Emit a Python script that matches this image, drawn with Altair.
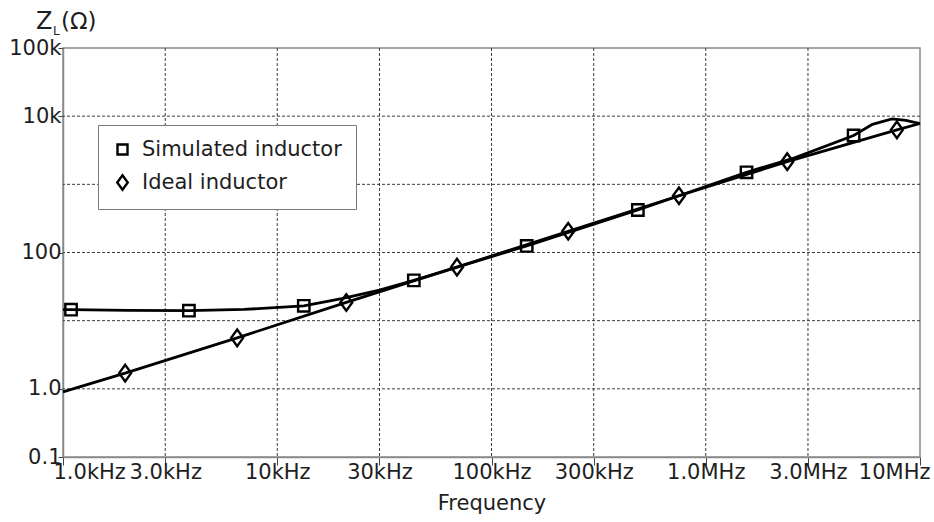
import altair as alt
import pandas as pd

# Impedance of the simulated (gyrator) inductor versus frequency
sim_freq = [1000, 1090, 2000, 3870, 7000, 13300, 20000, 30000, 43400, 146000,
            482000, 1550000, 2600000, 4900000, 6000000, 7400000, 8600000, 10000000]
sim_z = [14.5, 14.5, 14.2, 14.0, 14.6, 16.5, 21, 28, 39, 125,
         420, 1500, 2450, 5200, 7600, 9100, 8700, 7800]
sim_marker_freq = [1090, 3870, 13300, 43400, 146000, 482000, 1550000, 4900000]

# Impedance of the ideal inductor
ideal_freq = [1000, 1950, 6500, 21000, 69000, 228000, 750000, 2400000, 7800000, 10000000]
ideal_z = [0.9, 1.7, 5.6, 18.5, 61, 205, 680, 2150, 6300, 7800]
ideal_marker_freq = [1950, 6500, 21000, 69000, 228000, 750000, 2400000, 7800000]

series = ["Simulated inductor", "Ideal inductor"]

x_ticks = [1e3, 3e3, 1e4, 3e4, 1e5, 3e5, 1e6, 3e6, 1e7]
x_labels = ["1.0kHz", "3.0kHz", "10kHz", "30kHz", "100kHz", "300kHz", "1.0MHz", "3.0MHz", "10MHz"]
y_grid = [0.1, 1, 10, 100, 1e3, 1e4, 1e5]
y_ticks = [0.1, 1, 100, 1e4, 1e5]
y_labels = ["0.1", "1.0", "100", "10k", "100k"]

FONT = "DejaVu Sans"
INK = "#1e1e1e"


def label_expr(values, labels):
    expr = "''"
    for v, l in reversed(list(zip(values, labels))):
        expr = f"abs(datum.value - {v}) < {v * 1e-6} ? '{l}' : ({expr})"
    return expr


line_df = pd.concat([
    pd.DataFrame({"freq": sim_freq, "z": sim_z, "series": series[0]}),
    pd.DataFrame({"freq": ideal_freq, "z": ideal_z, "series": series[1]}),
])
sim_lookup = dict(zip(sim_freq, sim_z))
ideal_lookup = dict(zip(ideal_freq, ideal_z))
marker_df = pd.concat([
    pd.DataFrame({"freq": sim_marker_freq,
                  "z": [sim_lookup[f] for f in sim_marker_freq], "series": series[0]}),
    pd.DataFrame({"freq": ideal_marker_freq,
                  "z": [ideal_lookup[f] for f in ideal_marker_freq], "series": series[1]}),
])

x_scale = alt.Scale(type="log", domain=[1e3, 1e7], nice=False)
y_scale = alt.Scale(type="log", domain=[0.1, 1e5], nice=False)

X = alt.X("freq:Q", scale=x_scale, title="Frequency",
          axis=alt.Axis(values=x_ticks, labelExpr=label_expr(x_ticks, x_labels),
                        tickSize=8, labelPadding=-4, labelFlush=True,
                        labelFlushOffset=10, labelOverlap=False,
                        titlePadding=10, grid=False))
Y = alt.Y("z:Q", scale=y_scale, title=None,
          axis=alt.Axis(values=y_ticks, labelExpr=label_expr(y_ticks, y_labels),
                        tickSize=5, labelPadding=-3, labelOverlap=False, grid=False))

grid_style = dict(color="#3c3c3c", strokeWidth=1, strokeDash=[3, 2])
vgrid = alt.Chart(pd.DataFrame({"freq": x_ticks[1:-1]})).mark_rule(**grid_style).encode(x=X)
hgrid = alt.Chart(pd.DataFrame({"z": y_grid[1:-1]})).mark_rule(**grid_style).encode(y=Y)

lines = alt.Chart(line_df).mark_line(color="black", strokeWidth=2.8).encode(
    x=X, y=Y, detail="series:N"
)

diamond = "M-1.05,0L0,-1.45L1.05,0L0,1.45Z"
markers = alt.Chart(marker_df).mark_point(
    filled=False, color="black", strokeWidth=2.4, size=130, opacity=1
).encode(
    x=X, y=Y,
    shape=alt.Shape("series:N",
                    scale=alt.Scale(domain=series, range=["square", diamond]),
                    legend=alt.Legend(title=None, orient="none", legendX=35, legendY=77,
                                      padding=14, rowPadding=10, labelOffset=9,
                                      labelLimit=400,
                                      labelFont=FONT, labelFontSize=21, labelColor=INK,
                                      symbolSize=100, symbolStrokeWidth=2.4,
                                      symbolStrokeColor="black", symbolFillColor="transparent",
                                      strokeColor="#7a7a7a", fillColor="white")),
)

one = pd.DataFrame({"k": [0]})
z_main = alt.Chart(one).mark_text(font=FONT, fontSize=24, color=INK, align="left",
                                  baseline="alphabetic").encode(
    x=alt.value(-27), y=alt.value(-19), text=alt.value("Z"))
z_sub = alt.Chart(one).mark_text(font=FONT, fontSize=12, color=INK, align="left",
                                 baseline="alphabetic").encode(
    x=alt.value(-10), y=alt.value(-13), text=alt.value("L"))
z_unit = alt.Chart(one).mark_text(font=FONT, fontSize=23, color=INK, align="left",
                                  baseline="alphabetic").encode(
    x=alt.value(-2), y=alt.value(-19), text=alt.value("(Ω)"))

chart = alt.layer(vgrid, hgrid, lines, markers, z_main, z_sub, z_unit).properties(
    width=857, height=409,
    autosize=alt.AutoSizeParams(type="none"),
    padding={"left": 63, "top": 48, "right": 14, "bottom": 65},
    background="white",
).configure_view(
    stroke="#8a8a8a", strokeWidth=1.5
).configure_axis(
    domainColor="#8a8a8a", domainWidth=1.5, tickColor="#444", tickWidth=1,
    labelFont=FONT, labelFontSize=21, labelColor=INK,
    titleFont=FONT, titleFontSize=21, titleColor=INK, titleFontWeight="normal",
)

chart.save("out.html", embed_options={"renderer": "svg", "actions": False})
